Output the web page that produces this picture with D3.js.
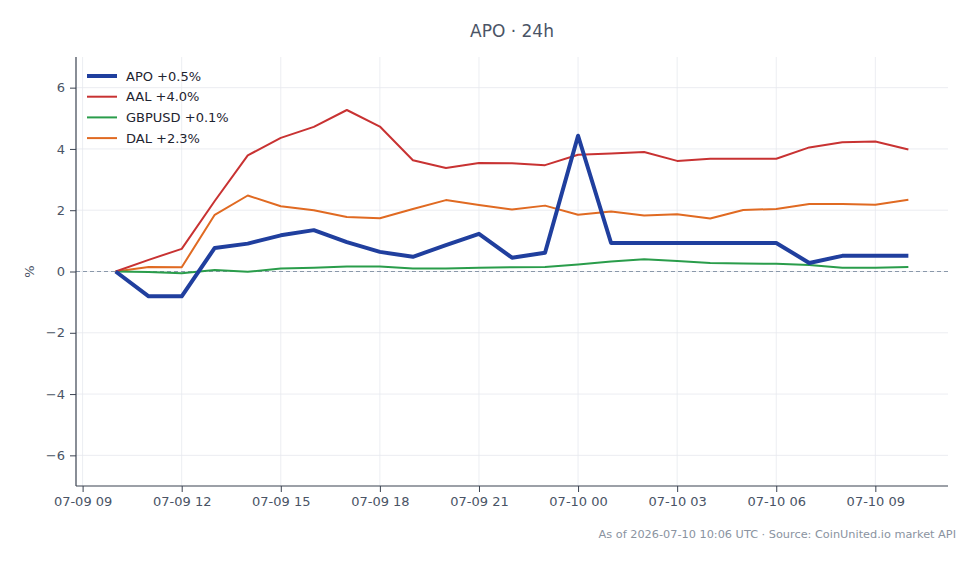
<!DOCTYPE html>
<html><head><meta charset="utf-8">
<script src="https://cdn.jsdelivr.net/npm/d3@7/dist/d3.min.js"></script>
<style>
body{margin:0;background:#fff;}
svg{font-family:"DejaVu Sans",sans-serif;}
</style></head>
<body><svg id="c" width="980" height="564"></svg>
<script>
const startTime = "2026-07-09T10:00:00Z";
const hoursCount = 25;
const apo = [0,-0.81,-0.81,0.77,0.91,1.18,1.35,0.96,0.64,0.48,0.86,1.23,0.45,0.61,4.43,0.93,0.93,0.93,0.93,0.93,0.93,0.28,0.51,0.51,0.51];
const aal = [0,0.38,0.74,2.3,3.79,4.36,4.72,5.27,4.73,3.63,3.38,3.54,3.53,3.47,3.81,3.85,3.9,3.61,3.68,3.68,3.68,4.05,4.22,4.24,3.98];
const gbpusd = [0,-0.02,-0.06,0.05,-0.01,0.1,0.12,0.16,0.16,0.1,0.1,0.12,0.14,0.15,0.23,0.33,0.4,0.34,0.28,0.26,0.25,0.21,0.12,0.12,0.15];
const dal = [0,0.15,0.14,1.85,2.48,2.13,2.0,1.78,1.74,2.04,2.33,2.17,2.02,2.15,1.85,1.96,1.83,1.87,1.73,2.01,2.04,2.2,2.2,2.18,2.34];
const seriesNames = ["APO +0.5%","AAL +4.0%","GBPUSD +0.1%","DAL +2.3%"];
const seriesColors = ["#203f9e","#c83232","#2a9d4b","#e06a22"];
const seriesWidths = [4,2,2,2];
const yTicks = [-6,-4,-2,0,2,4,6];
const titleText = "APO · 24h";
const footerText = "As of 2026-07-10 10:06 UTC · Source: CoinUnited.io market API";

const t0 = new Date(startTime);
const times = d3.range(hoursCount).map(i => new Date(t0.getTime() + i*3600e3));
const allSeries = [apo, aal, gbpusd, dal];

const svg = d3.select("#c");
const L = 76, R = 948, T = 57, B = 486;
const span = times[times.length-1] - times[0];
const x = d3.scaleUtc().domain([new Date(+times[0] - span*0.05), new Date(+times[times.length-1] + span*0.05)]).range([L, R]);
const y = d3.scaleLinear().domain([-7, 7]).range([B, T]);
const textCol = "#4a5466";
const xTickVals = d3.range(9).map(i => new Date(Date.UTC(2026,6,9,9) + i*3*3600e3));
const fmt = d3.utcFormat("%m-%d %H");

// grid
svg.append("g").selectAll("line").data(xTickVals).join("line")
  .attr("x1", d => x(d)).attr("x2", d => x(d)).attr("y1", T).attr("y2", B)
  .attr("stroke", "#e6e9ee").attr("stroke-width", 0.8);
svg.append("g").selectAll("line").data(yTicks).join("line")
  .attr("x1", L).attr("x2", R).attr("y1", d => y(d)).attr("y2", d => y(d))
  .attr("stroke", "#e6e9ee").attr("stroke-width", 0.8);

// zero line
svg.append("line").attr("x1", L).attr("x2", R).attr("y1", y(0)).attr("y2", y(0))
  .attr("stroke", "#8a98aa").attr("stroke-width", 1).attr("stroke-dasharray", "4,3");

// axes
const xAxis = svg.append("g").attr("transform", `translate(0,${B})`)
  .call(d3.axisBottom(x).tickValues(xTickVals).tickFormat(fmt).tickSize(6).tickPadding(5).tickSizeOuter(0));
const yAxis = svg.append("g").attr("transform", `translate(${L},0)`)
  .call(d3.axisLeft(y).tickValues(yTicks).tickFormat(d => d < 0 ? "\u2212" + Math.abs(d) : d).tickSize(6).tickPadding(5).tickSizeOuter(0));
[xAxis, yAxis].forEach(a => {
  a.select(".domain").attr("stroke", "#3a4250").attr("stroke-width", 1.2);
  a.selectAll(".tick line").attr("stroke", "#3a4250");
  a.selectAll("text").attr("fill", textCol).attr("font-size", 13).attr("font-family", "DejaVu Sans");
});
yAxis.select(".domain").attr("d", `M0,${T}V${B}`);
xAxis.select(".domain").attr("d", `M${L},0H${R}`);

// lines
const line = d3.line().x((d,i) => x(times[i])).y(d => y(d));
[3,2,1,0].forEach(k => {
  svg.append("path").datum(allSeries[k]).attr("d", line)
    .attr("fill", "none").attr("stroke", seriesColors[k]).attr("stroke-width", seriesWidths[k])
    .attr("stroke-linejoin", "round");
});

// legend
const lg = svg.append("g");
seriesNames.forEach((n, i) => {
  const yy = 76 + i*20.7;
  lg.append("line").attr("x1", 87).attr("x2", 117).attr("y1", yy).attr("y2", yy)
    .attr("stroke", seriesColors[i]).attr("stroke-width", seriesWidths[i]);
  lg.append("text").attr("x", 126).attr("y", yy).attr("dy", "0.35em")
    .attr("font-size", 13).attr("fill", "#1e2430").text(n);
});

// title
svg.append("text").attr("x", 512).attr("y", 37).attr("text-anchor", "middle")
  .attr("font-size", 17).attr("fill", textCol).text(titleText);
// y label
svg.append("text").attr("transform", `translate(34,${y(0)}) rotate(-90)`).attr("text-anchor", "middle")
  .attr("font-size", 13).attr("fill", textCol).text("%");
// footer
svg.append("text").attr("x", 956).attr("y", 538).attr("text-anchor", "end")
  .attr("font-size", 11.3).attr("fill", "#8a939f").text(footerText);
</script></body></html>
